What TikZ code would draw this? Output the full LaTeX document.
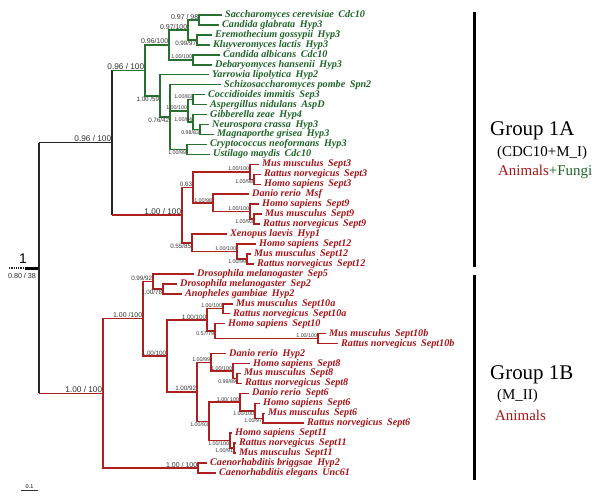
\documentclass[tikz,border=0pt]{standalone}
\usepackage{fontspec}
\setmainfont{Liberation Serif}
\setsansfont{Liberation Sans}
\definecolor{fg}{RGB}{40,112,48}
\definecolor{fr}{RGB}{172,32,32}
\definecolor{tg}{RGB}{30,100,40}
\definecolor{tr}{RGB}{165,20,25}
\newcommand{\sepgap}{\hspace{0.45em}}
\tikzset{
  gl/.style={draw=fg, line width=1.5bp},
  rl/.style={draw=fr, line width=1.5bp},
  kl/.style={draw=black!85, line width=1.5bp},
  leafbase/.style={anchor=west, inner xsep=3bp, inner ysep=0pt, text height=7bp, text depth=2bp,
    font=\bfseries\itshape\fontsize{10.2}{12}\selectfont},
  leafg/.style={leafbase, text=tg},
  leafr/.style={leafbase, text=tr},
  sbase/.style={inner sep=0.6bp, text=black!80, font=\sffamily\fontsize{6.3}{7}\selectfont},
  sa/.style={sbase, anchor=south east},
  sb/.style={sbase, anchor=north east},
  tinyf/.style={font=\sffamily\fontsize{5.4}{6}\selectfont},
  midf/.style={font=\sffamily\fontsize{7}{8}\selectfont},
  bigf/.style={font=\sffamily\fontsize{8.3}{9}\selectfont},
}
\begin{document}
\begin{tikzpicture}[x=1bp,y=-1bp]
\useasboundingbox (0,0) rectangle (600,504);
% ---------------- leaves ----------------
\node[leafg] (l1) at (222,15.00) {Saccharomyces cerevisiae\sepgap Cdc10};
\node[leafg] (l2) at (219,24.96) {Candida glabrata\sepgap Hyp3};
\node[leafg] (l3) at (212,34.91) {Eremothecium gossypii\sepgap Hyp3};
\node[leafg] (l4) at (210,44.87) {Kluyveromyces lactis\sepgap Hyp3};
\node[leafg] (l5) at (220,54.83) {Candida albicans\sepgap Cdc10};
\node[leafg] (l6) at (212,64.79) {Debaryomyces hansenii\sepgap Hyp3};
\node[leafg] (l7) at (209,74.74) {Yarrowia lipolytica\sepgap Hyp2};
\node[leafg] (l8) at (221,84.70) {Schizosaccharomyces pombe\sepgap Spn2};
\node[leafg] (l9) at (205,94.66) {Coccidioides immitis\sepgap Sep3};
\node[leafg] (l10) at (207,104.61) {Aspergillus nidulans\sepgap AspD};
\node[leafg] (l11) at (207,114.57) {Gibberella zeae\sepgap Hyp4};
\node[leafg] (l12) at (209,124.53) {Neurospora crassa\sepgap Hyp3};
\node[leafg] (l13) at (214,134.48) {Magnaporthe grisea\sepgap Hyp3};
\node[leafg] (l14) at (207,144.44) {Cryptococcus neoformans\sepgap Hyp3};
\node[leafg] (l15) at (210,154.40) {Ustilago maydis\sepgap Cdc10};
\node[leafr] (l16) at (259,164.36) {Mus musculus\sepgap Sept3};
\node[leafr] (l17) at (261,174.31) {Rattus norvegicus\sepgap Sept3};
\node[leafr] (l18) at (261,184.27) {Homo sapiens\sepgap Sept3};
\node[leafr] (l19) at (249,194.23) {Danio rerio\sepgap Msf};
\node[leafr] (l20) at (259,204.19) {Homo sapiens\sepgap Sept9};
\node[leafr] (l21) at (262,214.14) {Mus musculus\sepgap Sept9};
\node[leafr] (l22) at (260,224.10) {Rattus norvegicus\sepgap Sept9};
\node[leafr] (l23) at (227,234.06) {Xenopus laevis\sepgap Hyp1};
\node[leafr] (l24) at (256,244.01) {Homo sapiens\sepgap Sept12};
\node[leafr] (l25) at (251,253.97) {Mus musculus\sepgap Sept12};
\node[leafr] (l26) at (254,263.93) {Rattus norvegicus\sepgap Sept12};
\node[leafr] (l27) at (194,273.88) {Drosophila melanogaster\sepgap Sep5};
\node[leafr] (l28) at (177,283.84) {Drosophila melanogaster\sepgap Sep2};
\node[leafr] (l29) at (182,293.80) {Anopheles gambiae\sepgap Hyp2};
\node[leafr] (l30) at (233,303.76) {Mus musculus\sepgap Sept10a};
\node[leafr] (l31) at (230,313.71) {Rattus norvegicus\sepgap Sept10a};
\node[leafr] (l32) at (225,323.67) {Homo sapiens\sepgap Sept10};
\node[leafr] (l33) at (326,333.63) {Mus musculus\sepgap Sept10b};
\node[leafr] (l34) at (338,343.58) {Rattus norvegicus\sepgap Sept10b};
\node[leafr] (l35) at (226,353.54) {Danio rerio\sepgap Hyp2};
\node[leafr] (l36) at (250,363.50) {Homo sapiens\sepgap Sept8};
\node[leafr] (l37) at (241,373.45) {Mus musculus\sepgap Sept8};
\node[leafr] (l38) at (242,383.41) {Rattus norvegicus\sepgap Sept8};
\node[leafr] (l39) at (249,393.37) {Danio rerio\sepgap Sept6};
\node[leafr] (l40) at (260,403.33) {Homo sapiens\sepgap Sept6};
\node[leafr] (l41) at (265,413.28) {Mus musculus\sepgap Sept6};
\node[leafr] (l42) at (304,423.24) {Rattus norvegicus\sepgap Sept6};
\node[leafr] (l43) at (232,433.20) {Homo sapiens\sepgap Sept11};
\node[leafr] (l44) at (236,443.15) {Rattus norvegicus\sepgap Sept11};
\node[leafr] (l45) at (236,453.11) {Mus musculus\sepgap Sept11};
\node[leafr] (l46) at (207,463.07) {Caenorhabditis briggsae\sepgap Hyp2};
\node[leafr] (l47) at (216,473.02) {Caenorhabditis elegans\sepgap Unc61};
% ---------------- internal nodes ----------------
\coordinate (N1) at (199,19.98);
\coordinate (N3) at (197,39.89);
\coordinate (N2) at (188,29.94);
\coordinate (N4) at (193,59.81);
\coordinate (N5) at (169,44.87);
\coordinate (CA) at (193,99.64);
\coordinate (NM) at (200,129.50);
\coordinate (GN) at (193,122.04);
\coordinate (J) at (188,110.84);
\coordinate (K) at (187,149.42);
\coordinate (H) at (170,117.06);
\coordinate (G) at (160,95.90);
\coordinate (F) at (145,70.39);
\coordinate (RH3) at (254,179.29);
\coordinate (S3) at (250,171.83);
\coordinate (MR9) at (254,219.12);
\coordinate (U9) at (250,211.66);
\coordinate (S9) at (213,202.95);
\coordinate (R) at (193,187.39);
\coordinate (MR12) at (247,258.95);
\coordinate (T12) at (237,251.48);
\coordinate (S12) at (192,242.77);
\coordinate (Q) at (182,215.08);
\coordinate (P) at (112,142.74);
\coordinate (I2) at (163,288.82);
\coordinate (I1) at (153,281.35);
\coordinate (A10) at (223,308.74);
\coordinate (N10b) at (318,338.61);
\coordinate (X) at (215,331.14);
\coordinate (S10) at (207,319.94);
\coordinate (MR8) at (237,378.43);
\coordinate (Y8) at (233,370.97);
\coordinate (L8) at (211,362.26);
\coordinate (MR6) at (263,418.26);
\coordinate (U6) at (255,410.80);
\coordinate (S6) at (240,402.09);
\coordinate (MR11) at (234,448.13);
\coordinate (S11) at (230,440.67);
\coordinate (L611) at (209,421.38);
\coordinate (L) at (197,391.82);
\coordinate (M) at (167,355.88);
\coordinate (B2) at (143,318.62);
\coordinate (Cae) at (198,468.05);
\coordinate (B1) at (103,393.34);
\coordinate (root) at (39,268.04);
\coordinate (rt0) at (9,268.04);
\coordinate (rt1) at (25,268.04);
% ---------------- root ----------------
\draw[black!85, line width=1.3bp, densely dotted] (rt0) -- (rt1);
\draw[black, line width=3bp] (rt1) -- (root);
\draw[kl] (root |- P) -- (root |- B1);
\draw[kl] (root |- P) -- (P);
\draw[rl] (root |- B1) -- (B1);
\draw[kl] (P |- F) -- (P |- Q);
\draw[gl] (P |- F) -- (F);
\draw[rl] (P |- Q) -- (Q);
% ---------------- fungi ----------------
\draw[gl] (F) |- (N5); \draw[gl] (F) |- (G);
\draw[gl] (N5) |- (N2); \draw[gl] (N5) |- (N4);
\draw[gl] (N2) |- (N1); \draw[gl] (N2) |- (N3);
\draw[gl] (N1) |- (l1.west); \draw[gl] (N1) |- (l2.west);
\draw[gl] (N3) |- (l3.west); \draw[gl] (N3) |- (l4.west);
\draw[gl] (N4) |- (l5.west); \draw[gl] (N4) |- (l6.west);
\draw[gl] (G) |- (l7.west); \draw[gl] (G) |- (H);
\draw[gl] (H) |- (l8.west); \draw[gl] (H) |- (J); \draw[gl] (H) |- (K);
\draw[gl] (J) |- (CA); \draw[gl] (J) |- (GN);
\draw[gl] (CA) |- (l9.west); \draw[gl] (CA) |- (l10.west);
\draw[gl] (GN) |- (l11.west); \draw[gl] (GN) |- (NM);
\draw[gl] (NM) |- (l12.west); \draw[gl] (NM) |- (l13.west);
\draw[gl] (K) |- (l14.west); \draw[gl] (K) |- (l15.west);
% ---------------- animals 1A ----------------
\draw[rl] (Q) |- (R); \draw[rl] (Q) |- (S12);
\draw[rl] (R) |- (S3); \draw[rl] (R) |- (S9);
\draw[rl] (S3) |- (l16.west); \draw[rl] (S3) |- (RH3);
\draw[rl] (RH3) |- (l17.west); \draw[rl] (RH3) |- (l18.west);
\draw[rl] (S9) |- (l19.west); \draw[rl] (S9) |- (U9);
\draw[rl] (U9) |- (l20.west); \draw[rl] (U9) |- (MR9);
\draw[rl] (MR9) |- (l21.west); \draw[rl] (MR9) |- (l22.west);
\draw[rl] (S12) |- (l23.west); \draw[rl] (S12) |- (T12);
\draw[rl] (T12) |- (l24.west); \draw[rl] (T12) |- (MR12);
\draw[rl] (MR12) |- (l25.west); \draw[rl] (MR12) |- (l26.west);
% ---------------- group 1B ----------------
\draw[rl] (B1) |- (B2); \draw[rl] (B1) |- (Cae);
\draw[rl] (B2) |- (I1); \draw[rl] (B2) |- (M);
\draw[rl] (I1) |- (l27.west); \draw[rl] (I1) |- (I2);
\draw[rl] (I2) |- (l28.west); \draw[rl] (I2) |- (l29.west);
\draw[rl] (M) |- (S10); \draw[rl] (M) |- (L);
\draw[rl] (S10) |- (A10); \draw[rl] (S10) |- (X);
\draw[rl] (A10) |- (l30.west); \draw[rl] (A10) |- (l31.west);
\draw[rl] (X) |- (l32.west); \draw[rl] (X) |- (N10b);
\draw[rl] (N10b) |- (l33.west); \draw[rl] (N10b) |- (l34.west);
\draw[rl] (L) |- (L8); \draw[rl] (L) |- (L611);
\draw[rl] (L8) |- (l35.west); \draw[rl] (L8) |- (Y8);
\draw[rl] (Y8) |- (l36.west); \draw[rl] (Y8) |- (MR8);
\draw[rl] (MR8) |- (l37.west); \draw[rl] (MR8) |- (l38.west);
\draw[rl] (L611) |- (S6); \draw[rl] (L611) |- (S11);
\draw[rl] (S6) |- (l39.west); \draw[rl] (S6) |- (U6);
\draw[rl] (U6) |- (l40.west); \draw[rl] (U6) |- (MR6);
\draw[rl] (MR6) |- (l41.west); \draw[rl] (MR6) |- (l42.west);
\draw[rl] (S11) |- (l43.west); \draw[rl] (S11) |- (MR11);
\draw[rl] (MR11) |- (l44.west); \draw[rl] (MR11) |- (l45.west);
\draw[rl] (Cae) |- (l46.west); \draw[rl] (Cae) |- (l47.west);
% ---------------- support values ----------------
\node[sa,midf] (sN1) at (N1) {0.97 / 98};
\node[sa,midf] (sN2) at (N2) {0.97/100};
\node[sa,midf] (sN5) at (N5) {0.96/100};
\node[sb] (sN3) at (N3) {0.99/97};
\node[sa,tinyf] (sN4) at (N4) {1.00/100};
\node[sa,bigf] (sF) at (F) {0.96 / 100};
\node[sb] (sG) at (G) {1.00 /59};
\node[sb] (sH) at (H) {0.76/42};
\node[sa,tinyf] (sCA) at (CA) {1.00/83};
\node[sa,tinyf] (sJ) at (J) {1.00/100};
\node[sa,tinyf] (sGN) at (GN) {1.00/84};
\node[sb,tinyf] (sNM) at (NM) {0.98/83};
\node[sb,tinyf] (sK) at (K) {1.00/99};
\node[sa,bigf] (sP) at (P) {0.96 / 100};
\node[sa,bigf] (sQ) at (Q) {1.00 / 100};
\node[sa] (sR) at (R) {0.63};
\node[sa,tinyf] (sS3) at (S3) {1.00/100};
\node[sb,tinyf] (sRH3) at (RH3) {1.00/98};
\node[sa,tinyf] (sS9) at (S9) {1.00/98};
\node[sa,tinyf] (sU9) at (U9) {1.00/100};
\node[sb,tinyf] (sMR9) at (MR9) {1.00/93};
\node[sb] (sS12) at (S12) {0.55/85};
\node[sa,tinyf] (sT12) at (T12) {1.00/100};
\node[sb,tinyf] (sMR12) at (MR12) {1.00/99};
\node[sa,bigf] (sB1) at (B1) {1.00 / 100};
\node[sa,midf] (sB2) at (B2) {1.00 /100};
\node[sa] (sI1) at (I1) {0.99/92};
\node[sb] (sI2) at (I2) {1.00/78};
\node[sa] (sM) at (M) {1.00/100};
\node[sa] (sS10) at (S10) {1.00/100};
\node[sa,tinyf] (sA10) at (A10) {1.00/100};
\node[sb,tinyf] (sX) at (X) {0.57/79};
\node[sa,tinyf] (sN10b) at (N10b) {1.00/100};
\node[sa] (sL) at (L) {1.00/92};
\node[sa,tinyf] (sL8) at (L8) {1.00/99};
\node[sa,tinyf] (sY8) at (Y8) {1.00/100};
\node[sb,tinyf] (sMR8) at (MR8) {0.99/89};
\node[sb,tinyf] (sL611) at (L611) {1.00/93};
\node[sa,tinyf] (sS6) at (S6) {1.00/ 100};
\node[sb,tinyf] (sU6) at (U6) {1.00/100};
\node[sb,tinyf] (sMR6) at (MR6) {1.00/97};
\node[sb,tinyf] (sS11) at (S11) {1.00/100};
\node[sb,tinyf] (sMR11) at (MR11) {1.00/91};
\node[sa,midf] (sCae) at (Cae) {1.00 / 100};
\node[anchor=south, inner sep=0pt, font=\sffamily\fontsize{14}{16}\selectfont] (one) at (23,264) {1};
\node[anchor=north, inner sep=0pt, font=\sffamily\fontsize{7.2}{8}\selectfont, text=black!85] (s0) at (22,273) {0.80 / 38};
% ---------------- scale bar ----------------
\coordinate (sc0) at (21,490);
\coordinate (sc1) at (38,490);
\draw[black!80, line width=0.6bp] (sc0) -- (sc1);
\node[anchor=south, inner sep=0.8bp, font=\sffamily\fontsize{5.5}{6}\selectfont] (scl) at (29.5,490) {0.1};
% ---------------- group bars ----------------
\coordinate (ga0) at (474,12);
\coordinate (ga1) at (474,267);
\coordinate (gb0) at (474,275);
\coordinate (gb1) at (474,480);
\draw[black, line width=3bp] (ga0) -- (ga1);
\draw[black, line width=3bp] (gb0) -- (gb1);
\node[anchor=west, inner sep=0pt, font=\fontsize{21}{24}\selectfont] (g1a) at (490,131) {Group 1A};
\node[anchor=west, inner sep=0pt, font=\fontsize{15}{17}\selectfont] (g1ab) at (497,153) {(CDC10+M\_I)};
\node[anchor=west, inner sep=0pt, font=\fontsize{15}{17}\selectfont] (g1ac) at (498,172) {\textcolor{tr}{Animals}\textcolor{tg}{+Fungi}};
\node[anchor=west, inner sep=0pt, font=\fontsize{21}{24}\selectfont] (g1b) at (490,375) {Group 1B};
\node[anchor=west, inner sep=0pt, font=\fontsize{15}{17}\selectfont] (g1bb) at (497,396) {(M\_II)};
\node[anchor=west, inner sep=0pt, font=\fontsize{15}{17}\selectfont, text=tr] (g1bc) at (495,415) {Animals};
\end{tikzpicture}
\end{document}
